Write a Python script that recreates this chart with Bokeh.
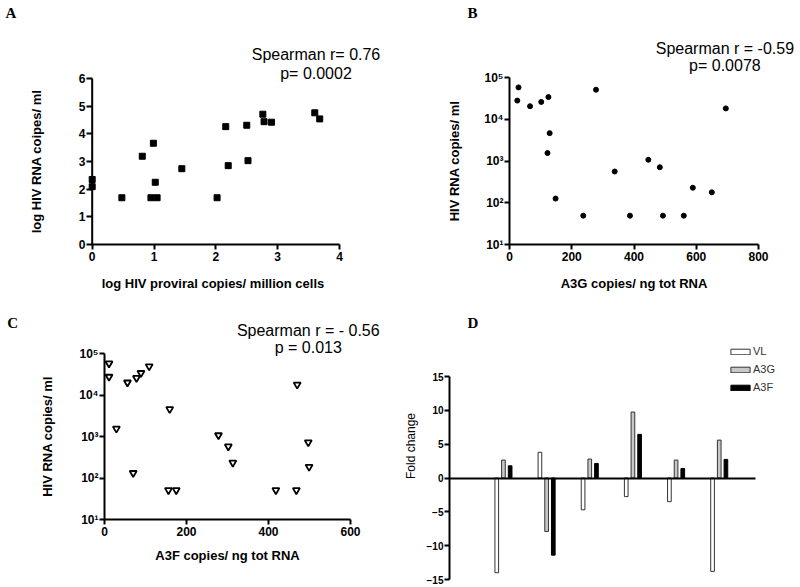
from bokeh.plotting import figure
from bokeh.layouts import column, row
from bokeh.models import (Range1d, FixedTicker, Label, Span, Legend, LegendItem,
                          ColumnDataSource)
from bokeh.transform import dodge
from bokeh.embed import file_html
from bokeh.resources import INLINE

# ---------------- data ----------------
# Panel A
a_x = [0, 0, 0.48, 0.81, 0.95, 0.99, 1.02, 1.05, 1.45, 2.02, 2.16, 2.20, 2.50, 2.52, 2.76, 2.78, 2.90, 3.60, 3.68]
a_y = [2.35, 2.09, 1.69, 3.19, 1.69, 3.66, 2.25, 1.69, 2.74, 1.69, 4.26, 2.85, 4.31, 3.03, 4.71, 4.44, 4.42, 4.76, 4.54]
# Panel B
b_x = [29, 25, 66, 102, 125, 129, 122, 148, 237, 278, 338, 387, 446, 483, 493, 560, 589, 650, 695]
b_y = [58000, 28000, 20500, 26000, 34000, 4650, 1550, 126, 49, 51000, 560, 49, 1070, 710, 49, 49, 229, 178, 18200]
# Panel C
c_x = [11, 11, 29, 56, 78, 89, 109, 70, 159, 156, 175, 278, 302, 313, 418, 468, 470, 497, 499]
c_y = [57500, 27500, 1550, 20000, 25700, 33900, 49000, 132, 4570, 51, 51, 1070, 575, 234, 51, 51, 17800, 724, 186]
# Panel D
d_groups = [1, 2, 3, 4, 5, 6]
d_vl = [-14.0, 3.8, -4.7, -2.75, -3.5, -13.8]
d_a3g = [2.65, -7.9, 2.8, 9.75, 2.65, 5.6]
d_a3f = [1.8, -11.4, 2.15, 6.45, 1.4, 2.75]

log_ticks = [10, 100, 1000, 10000, 100000]
log_labels = {10: "10¹", 100: "10²", 1000: "10³", 10000: "10⁴", 100000: "10⁵"}

SANS = "Liberation Sans"
SERIF = "Liberation Serif"


def make_fig(**kw):
    p = figure(output_backend="svg", toolbar_location=None, **kw)
    p.outline_line_color = None
    p.xgrid.visible = False
    p.ygrid.visible = False
    p.background_fill_color = "white"
    p.border_fill_color = "white"
    return p


def style_axis(ax, tick_size="12px", label_size="13px", label_style="bold", tick_style="bold"):
    ax.axis_line_width = 2
    ax.axis_line_color = "black"
    ax.major_tick_line_width = 2
    ax.major_tick_line_color = "black"
    ax.major_tick_out = 5
    ax.major_tick_in = 0
    ax.minor_tick_line_color = None
    ax.major_label_text_font = SANS
    ax.major_label_text_font_style = tick_style
    ax.major_label_text_font_size = tick_size
    ax.major_label_text_color = "black"
    ax.axis_label_text_font = SANS
    ax.axis_label_text_font_style = label_style
    ax.axis_label_text_font_size = label_size
    ax.axis_label_text_color = "black"


def add_text(p, x, y, txt, place="above", size="16px", font=SANS, style="normal"):
    lab = Label(x=x, y=y, text=txt, text_font=font, text_font_size=size,
                text_font_style=style, text_align="center",
                text_baseline="middle", text_color="black")
    if place == "center":
        p.add_layout(lab)
    else:
        p.add_layout(lab, place)


# ---------------- Panel A ----------------
pA = make_fig(x_range=Range1d(-0.092, 4), y_range=Range1d(0, 6),
              frame_width=253, frame_height=166,
              min_border_left=86, min_border_right=61, min_border_top=78, min_border_bottom=56)
pA.scatter(a_x, a_y, marker="square", size=6, color="black")
style_axis(pA.xaxis[0]); style_axis(pA.yaxis[0])
pA.xaxis.ticker = FixedTicker(ticks=[0, 1, 2, 3, 4])
pA.yaxis.ticker = FixedTicker(ticks=[0, 1, 2, 3, 4, 5, 6])
pA.xaxis.bounds = (0, 4)
pA.yaxis.axis_line_color = None
pA.yaxis.major_tick_out = 0
pA.yaxis.major_tick_in = 6
pA.add_layout(Span(location=0, dimension="height", line_color="black", line_width=2))
pA.xaxis.axis_label = "log HIV proviral copies/ million cells"
pA.yaxis.axis_label = "log HIV RNA coipes/ ml"
pA.xaxis.major_label_standoff = 2
pA.yaxis.major_label_standoff = 1
pA.xaxis.axis_label_standoff = 12
pA.yaxis.axis_label_standoff = 32
add_text(pA, 3.62, 6.85, "Spearman r= 0.76")
add_text(pA, 3.62, 6.18, "p= 0.0002")
add_text(pA, -1.313, 8.385, "A", place="left", size="15px", font=SERIF, style="bold")

# ---------------- Panel B ----------------
pB = make_fig(x_range=Range1d(0, 800), y_range=Range1d(10, 100000), y_axis_type="log",
              frame_width=249, frame_height=167,
              min_border_left=109, min_border_right=42, min_border_top=77, min_border_bottom=56)
pB.scatter(b_x, b_y, marker="circle", size=5, color="black")
style_axis(pB.xaxis[0]); style_axis(pB.yaxis[0])
pB.xaxis.ticker = FixedTicker(ticks=[0, 200, 400, 600, 800])
pB.yaxis.ticker = FixedTicker(ticks=log_ticks)
pB.yaxis.major_label_overrides = log_labels
pB.xaxis.axis_label = "A3G copies/ ng tot RNA"
pB.yaxis.axis_label = "HIV RNA copies/ ml"
pB.xaxis.major_label_standoff = 2
pB.yaxis.major_label_standoff = 1
pB.xaxis.axis_label_standoff = 12
pB.yaxis.axis_label_standoff = 19
add_text(pB, 692, 482000, "Spearman r = -0.59")
add_text(pB, 692, 194000, "p= 0.0078")
add_text(pB, -119, 3600000, "B", place="left", size="15px", font=SERIF, style="bold")

# ---------------- Panel C ----------------
pC = make_fig(x_range=Range1d(0, 600), y_range=Range1d(10, 100000), y_axis_type="log",
              frame_width=246, frame_height=166,
              min_border_left=104, min_border_right=50, min_border_top=53, min_border_bottom=68)
pC.scatter(c_x, c_y, marker="inverted_triangle", size=7, fill_color="white",
           line_color="black", line_width=1.8)
style_axis(pC.xaxis[0]); style_axis(pC.yaxis[0])
pC.xaxis.ticker = FixedTicker(ticks=[0, 200, 400, 600])
pC.yaxis.ticker = FixedTicker(ticks=log_ticks)
pC.yaxis.major_label_overrides = log_labels
pC.xaxis.axis_label = "A3F copies/ ng tot RNA"
pC.yaxis.axis_label = "HIV RNA copies/ ml"
pC.xaxis.major_label_standoff = 2
pC.yaxis.major_label_standoff = 1
pC.xaxis.axis_label_standoff = 9
pC.yaxis.axis_label_standoff = 21
add_text(pC, 497, 358000, "Spearman r = - 0.56")
add_text(pC, 497, 135700, "p = 0.013")
add_text(pC, -224, 543000, "C", place="left", size="15px", font=SERIF, style="bold")

# ---------------- Panel D ----------------
src = ColumnDataSource(dict(g=d_groups, vl=d_vl, a3g=d_a3g, a3f=d_a3f))
pD = make_fig(x_range=Range1d(-0.25, 7.883), y_range=Range1d(-15, 24.46),
              frame_width=351, frame_height=267,
              min_border_left=49, min_border_right=0, min_border_top=12, min_border_bottom=8)
bw = 0.085
r_vl = pD.vbar(x=dodge("g", -0.155, range=pD.x_range), top="vl", bottom=0, width=bw,
               source=src, fill_color="white", line_color="#333333", line_width=1)
r_g = pD.vbar(x=dodge("g", 0.0, range=pD.x_range), top="a3g", bottom=0, width=bw,
              source=src, fill_color="#c8c8c8", line_color="#333333", line_width=1)
r_f = pD.vbar(x=dodge("g", 0.155, range=pD.x_range), top="a3f", bottom=0, width=bw,
              source=src, fill_color="black", line_color="black", line_width=1)
# zero line: x axis pinned at y = 0, limited to the bar region
xa = pD.xaxis[0]
xa.fixed_location = 0
xa.bounds = (-0.25, 6.84)
xa.ticker = FixedTicker(ticks=[])
xa.axis_line_width = 2
xa.axis_line_color = "black"
xa.major_tick_out = 0
xa.major_tick_in = 0
xa.minor_tick_line_color = None
xa.major_label_standoff = 0
style_axis(pD.yaxis[0], tick_size="10px", label_size="12px", label_style="normal")
pD.yaxis.ticker = FixedTicker(ticks=[-15, -10, -5, 0, 5, 10, 15])
pD.yaxis.bounds = (-15, 15)
pD.yaxis.axis_label = "Fold change"
pD.yaxis.major_label_standoff = 1
pD.yaxis.axis_label_standoff = 6
leg = Legend(items=[LegendItem(label="VL", renderers=[r_vl]),
                    LegendItem(label="A3G", renderers=[r_g]),
                    LegendItem(label="A3F", renderers=[r_f])],
             location=(279, 185), glyph_width=24, glyph_height=7, label_height=14,
             label_width=10, spacing=4, padding=0, margin=0, label_standoff=1,
             label_text_font=SANS, label_text_font_size="11px", label_text_color="#333333",
             border_line_color=None, background_fill_alpha=0)
pD.add_layout(leg)
add_text(pD, 0.294, 22.98, "D", place="center", size="15px", font=SERIF, style="bold")

layout = column(row(column(pA), column(pB)), row(column(pC), column(pD)))
open("out.html", "w").write(file_html(layout, INLINE))
